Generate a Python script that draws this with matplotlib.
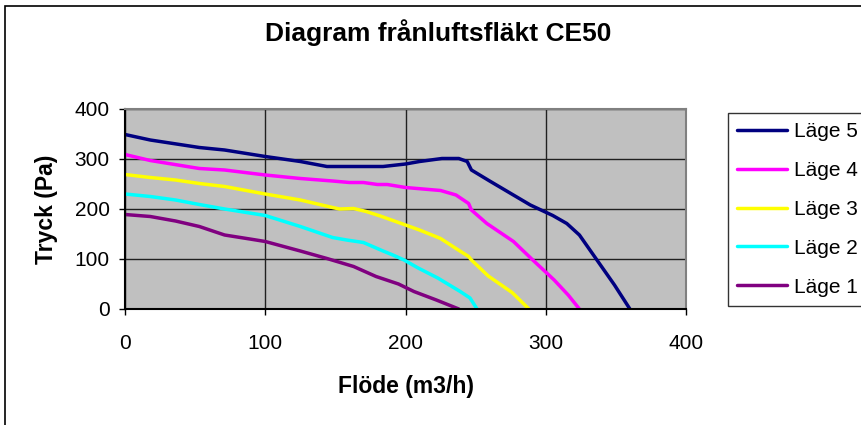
import matplotlib
matplotlib.use("Agg")
import matplotlib.pyplot as plt
from matplotlib.patches import Rectangle

plt.rcParams['font.family'] = ['Liberation Sans', 'DejaVu Sans']

# (flöde m3/h, tryck Pa)
lage5_x = [0, 18, 53, 71, 100, 125, 144, 184, 200, 210, 226, 238, 244, 247, 260, 289, 305, 315, 324, 334, 349, 360]
lage5_y = [349, 338, 323, 318, 305, 295, 285, 285, 290, 295, 301, 301, 295, 278, 256, 208, 187, 171, 148, 108, 48, 0]

lage4_x = [0, 18, 53, 71, 100, 125, 148, 160, 170, 180, 187, 200, 225, 236, 245, 247, 258, 277, 290, 306, 316, 324]
lage4_y = [309, 297, 281, 278, 268, 261, 256, 253, 253, 249, 249, 243, 237, 228, 211, 198, 171, 135, 100, 58, 28, 0]

lage3_x = [0, 18, 36, 53, 71, 100, 125, 148, 153, 163, 172, 182, 200, 210, 225, 236, 245, 247, 259, 276, 288]
lage3_y = [269, 263, 258, 251, 245, 230, 218, 203, 200, 201, 195, 186, 168, 158, 141, 121, 105, 98, 66, 33, 0]

lage2_x = [0, 18, 36, 53, 71, 100, 125, 148, 158, 170, 184, 191, 199, 209, 223, 239, 246, 251]
lage2_y = [230, 225, 218, 209, 200, 187, 165, 143, 138, 133, 116, 108, 98, 82, 62, 35, 22, 0]

lage1_x = [0, 18, 36, 53, 71, 89, 100, 125, 144, 163, 171, 179, 195, 206, 222, 238]
lage1_y = [189, 185, 176, 165, 148, 140, 135, 116, 101, 85, 75, 65, 50, 35, 18, 0]

serier = [
    ("Läge 5", lage5_x, lage5_y, "#000080"),
    ("Läge 4", lage4_x, lage4_y, "#FF00FF"),
    ("Läge 3", lage3_x, lage3_y, "#FFFF00"),
    ("Läge 2", lage2_x, lage2_y, "#00FFFF"),
    ("Läge 1", lage1_x, lage1_y, "#800080"),
]

W, H = 861, 425
fig = plt.figure(figsize=(W / 100, H / 100), dpi=100)
ax = fig.add_axes([125 / W, (H - 309) / H, 561 / W, 200 / H])
ax.set_facecolor("#C0C0C0")

for namn, x, y, farg in serier:
    ax.plot(x, y, color=farg, lw=2.5, label=namn, solid_capstyle='round')

ax.set_xlim(0, 400)
ax.set_ylim(0, 400)
ax.set_xticks([0, 100, 200, 300, 400])
ax.set_yticks([0, 100, 200, 300, 400])
ax.grid(True, color="#202020", lw=1)
ax.set_axisbelow(True)
ax.tick_params(labelsize=15, length=4, width=1, direction='out')
ax.tick_params(axis='x', pad=14)
ax.tick_params(axis='y', pad=7)
for s in ['top', 'right']:
    ax.spines[s].set_color("#808080")
    ax.spines[s].set_linewidth(1.5)
for s in ['left', 'bottom']:
    ax.spines[s].set_color("black")
    ax.spines[s].set_linewidth(1.5)

ax.set_xlabel("Flöde (m3/h)", fontsize=16.5, fontweight='bold', labelpad=16)
ax.set_ylabel("Tryck (Pa)", fontsize=16.5, fontweight='bold', labelpad=12)
fig.text(438 / W, 1 - 33 / H, "Diagram frånluftsfläkt CE50", fontsize=19,
         fontweight='bold', ha='center', va='center')

leg = fig.legend(loc='upper left', bbox_to_anchor=(728 / W, 1 - 113 / H),
                 fontsize=15, frameon=True, fancybox=False, edgecolor='black',
                 handlelength=2.4, handletextpad=0.34, labelspacing=0.95,
                 borderpad=0.45, borderaxespad=0)
leg.get_frame().set_linewidth(1)

# ramen runt hela diagrammet
fig.patches.append(Rectangle((5 / W, -0.1), 1.2, 1 + 0.1 - 6 / H, transform=fig.transFigure,
                             fill=False, edgecolor='black', lw=1.2))

fig.savefig("out.png", dpi=100)
